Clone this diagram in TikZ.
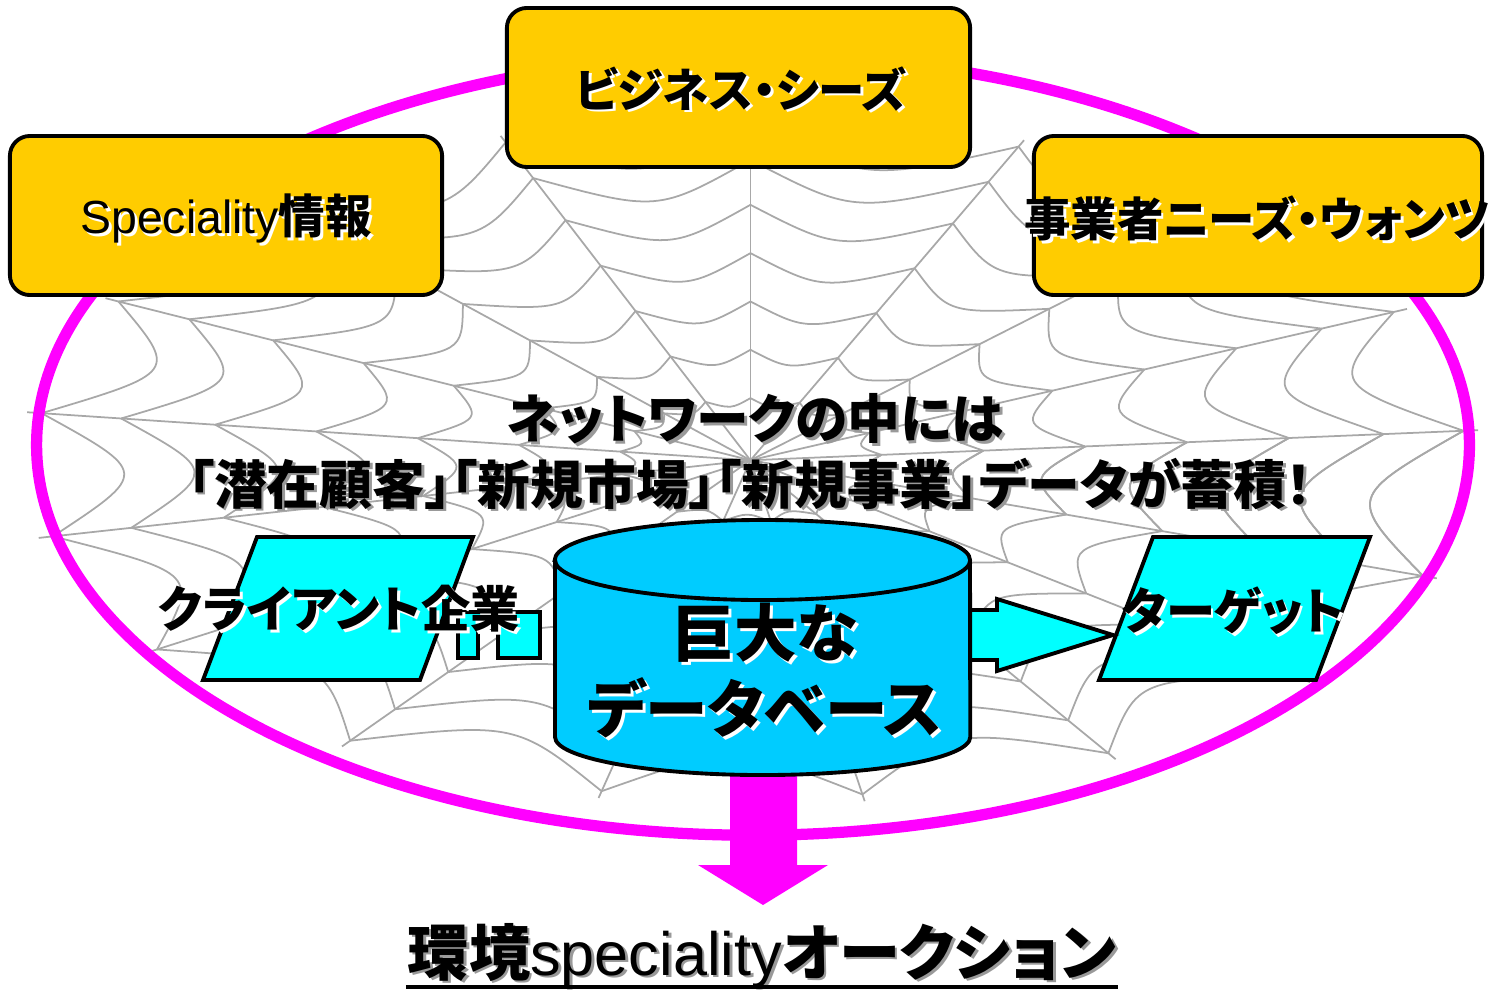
\documentclass[tikz,border=0pt]{standalone}
\usepackage{fontspec}
\setmainfont{Noto Sans CJK JP}[RawFeature=+palt]
\newfontfamily\latinfont{Liberation Sans}

\definecolor{boxgold}{HTML}{FFCC00}
\definecolor{webgray}{HTML}{A8A8A8}
\definecolor{ringpink}{HTML}{FF00FF}
\definecolor{paracyan}{HTML}{00FFFF}
\definecolor{dbblue}{HTML}{00CCFF}

% text with an offset shadow behind it
\newcommand\shadowtxt[2]{\makebox[0pt][l]{\hspace{0.8pt}\raisebox{-0.8pt}{\textcolor{#1}{#2}}}#2}

\begin{document}
\begin{tikzpicture}[x=0.01cm,y=-0.01cm,line width=1.1pt,
  goldbox/.style={draw,fill=boxgold,rounded corners=0.2cm,minimum width=#1,minimum height=1.59cm},
  boxtext/.style={inner sep=0pt,font=\bfseries\fontsize{13.2}{16}\selectfont},
  midtext/.style={inner sep=0pt,font=\bfseries\fontsize{15}{18}\selectfont},
  paratext/.style={inner sep=0pt,font=\bfseries\fontsize{14}{17}\selectfont},
  cyanshape/.style={draw,fill=paracyan}]
  \useasboundingbox (0,0) rectangle (1498,991);

  % spider web
  \begin{scope}[shift={(7.5cm,-4.6cm)},x=7.3cm,y=3.45cm,draw=webgray,line width=0.5pt]
    \foreach \a in {5,26,47,68,90,110,131,152,172,193,214,236,258,279,300,320,340}
      \draw (0:0) -- (\a:1);
    \foreach \r in {0.18,0.32,0.46,0.6,0.74,0.87,0.98}
      \foreach \a [remember=\a as \b (initially -20)] in {5,26,47,68,90,110,131,152,172,193,214,236,258,279,300,320,340,365}
        \draw (\b:\r) .. controls ({(\a+\b)/2}:{0.84*\r}) .. (\a:\r);
  \end{scope}

  \draw[ringpink,line width=3.2pt] (753,445) ellipse [x radius=7.16cm,y radius=3.9cm];

  % arrow down to the auction
  \fill[ringpink] (730,760) -- (797,760) -- (797,865) -- (828,865) -- (763,905)
    -- (698,865) -- (730,865) -- cycle;

  \node[goldbox=4.63cm] (seeds) at (738.5,87.5) {};
  \node[goldbox=4.32cm] (info) at (226,215.5) {};
  \node[goldbox=4.48cm] (needs) at (1258,215.5) {};
  \node[boxtext] (seedstxt) at (741,90) {\shadowtxt{white}{ビジネス・シーズ}};
  \node[boxtext] (infotxt) at (226,220) {\shadowtxt{white}{{\latinfont\mdseries Speciality}情報}};
  \node[boxtext] (needstxt) at (1257,220) {\shadowtxt{white}{事業者ニーズ・ウォンツ}};

  \node[midtext] (net1) at (755,420) {\shadowtxt{black!40}{ネットワークの中には}};
  \node[midtext] (net2) at (750,485) {\shadowtxt{black!40}{「潜在顧客」「新規市場」「新規事業」データが蓄積！}};

  % client and target
  \draw[cyanshape] (257,537) -- (473,537) -- (420,680) -- (203,680) -- cycle;
  \draw[cyanshape] (1153,537) -- (1370,537) -- (1316,680) -- (1099,680) -- cycle;
  \draw[cyanshape] (458,612) -- (540,612) -- (540,658) -- (498,658) -- (498,628)
    -- (478,628) -- (478,658) -- (458,658) -- cycle;
  \draw[cyanshape] (960,610) -- (997,610) -- (997,599) -- (1113,635) -- (997,671)
    -- (997,660) -- (960,660) -- cycle;
  \node[paratext] (client) at (339,610) {\shadowtxt{white}{クライアント企業}};
  \node[paratext] (target) at (1233,612) {\shadowtxt{white}{ターゲット}};

  % database
  \filldraw[fill=dbblue] (555,560) -- (555,737)
    arc[start angle=180,end angle=360,x radius=2.075cm,y radius=0.38cm]
    -- (970,560) arc[start angle=0,end angle=180,x radius=2.075cm,y radius=0.4cm] -- cycle;
  \draw (555,560) arc[start angle=180,end angle=360,x radius=2.075cm,y radius=0.4cm];
  \node[inner sep=0pt,align=center,font=\bfseries\fontsize{17.8}{21.5}\selectfont] (db) at (765,672)
    {\shadowtxt{white}{巨大な}\\\shadowtxt{white}{データベース}};

  \node[inner sep=0pt,font=\bfseries\fontsize{17.4}{21}\selectfont,anchor=base] (auction) at (762,975)
    {\shadowtxt{black!40}{環境{\latinfont\mdseries speciality}オークション}};
  \draw[line width=1.3pt] ([yshift=-0.12cm]auction.base west) -- ([yshift=-0.12cm]auction.base east);
\end{tikzpicture}
\end{document}
